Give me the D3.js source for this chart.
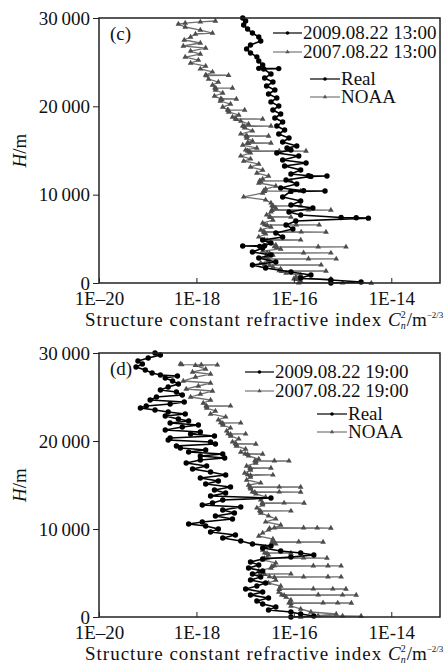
<!DOCTYPE html>
<html>
<head>
<meta charset="utf-8">
<script src="https://cdn.jsdelivr.net/npm/d3@7/dist/d3.min.js"></script>
<style>
  body { margin: 0; background: #fff; }
  svg text { font-family: "Liberation Serif", "Times New Roman", serif; fill: #111; }
</style>
</head>
<body>
<div id="chart-area"></div>
<script>
// x ticks (Cn2, m^-2/3) and y ticks (H, m)
const xTicks = [1e-20, 1e-18, 1e-16, 1e-14];
const xTickLabels = ["1E\u201320", "1E-18", "1E-16", "1E-14"];
const yTicks = [0, 10000, 20000, 30000];
const yTickLabels = ["0", "10\u2009000", "20\u2009000", "30\u2009000"];

// each point: [H in m, log10 of Cn2]
const realC = [[30000,-17.05],[29660,-16.99],[29200,-17.03],[28750,-16.95],[28300,-16.85],[27850,-16.72],[27400,-16.68],[26950,-16.89],[26500,-16.97],[26040,-16.89],[25600,-16.76],[25130,-16.72],[24680,-16.64],[24300,-16.72],[24270,-16.31],[24230,-16.62],[23660,-16.47],[23200,-16.60],[22750,-16.43],[22300,-16.56],[21850,-16.39],[21400,-16.52],[20940,-16.35],[20500,-16.47],[20040,-16.31],[19580,-16.43],[19130,-16.27],[18680,-16.39],[18230,-16.23],[17770,-16.35],[17320,-16.19],[16870,-16.31],[16410,-16.10],[15960,-16.23],[15510,-15.94],[15280,-16.14],[15060,-16.06],[14720,-16.35],[14380,-15.90],[13920,-16.23],[13580,-15.75],[13240,-16.19],[12790,-15.86],[12340,-16.06],[12140,-15.70],[12110,-15.32],[12070,-15.65],[11660,-16.16],[11210,-15.94],[10750,-16.27],[10440,-15.80],[10410,-15.36],[10370,-16.06],[9740,-16.23],[9280,-15.86],[8830,-16.06],[8490,-15.61],[8040,-16.10],[7700,-15.86],[7420,-15.03],[7380,-14.72],[7340,-14.47],[7020,-15.96],[6570,-16.16],[6110,-16.02],[5660,-16.37],[5210,-16.23],[4870,-16.64],[4530,-16.47],[4220,-16.60],[4190,-17.05],[4150,-16.70],[3960,-16.64],[3510,-16.85],[3170,-16.47],[2830,-16.72],[2380,-16.37],[2040,-16.85],[1700,-16.58],[1250,-16.06],[900,-15.65],[570,-15.86],[340,-15.24],[110,-14.62],[0,-15.24]];

const noaaC = [[29660,-17.61],[29550,-17.92],[29430,-18.23],[29320,-18.37],[28980,-18.23],[28640,-17.92],[28300,-17.67],[28190,-18.02],[27850,-18.12],[27510,-18.25],[27170,-17.92],[26830,-18.27],[26600,-17.81],[26260,-18.12],[25920,-17.92],[25580,-18.23],[25240,-17.96],[24900,-18.12],[24560,-17.81],[24230,-17.92],[23890,-17.67],[23550,-17.81],[23520,-17.34],[23480,-17.80],[23090,-17.75],[22750,-17.55],[22410,-17.67],[22100,-17.62],[22070,-17.26],[22030,-17.60],[21850,-17.61],[21510,-17.46],[21170,-17.63],[20860,-17.50],[20830,-17.18],[20790,-17.48],[20600,-17.51],[20260,-17.30],[19920,-17.46],[19610,-17.36],[19580,-17.01],[19540,-17.34],[19360,-17.34],[19020,-17.13],[18790,-17.26],[18590,-17.20],[18560,-16.64],[18520,-17.18],[18340,-17.09],[18000,-16.93],[17800,-17.05],[17770,-16.47],[17730,-17.02],[17550,-17.01],[17210,-16.85],[16870,-17.09],[16670,-16.98],[16640,-16.52],[16600,-16.96],[16410,-16.97],[16070,-16.85],[15880,-16.95],[15850,-16.47],[15810,-16.93],[15620,-17.05],[15280,-16.76],[15060,-16.99],[14970,-16.95],[14950,-16.30],[14940,-15.75],[14900,-16.92],[14720,-16.89],[14380,-17.09],[14040,-16.89],[13810,-17.03],[13470,-16.72],[13130,-16.89],[12790,-16.64],[12450,-16.76],[12110,-16.52],[11770,-16.64],[11580,-16.70],[11550,-16.06],[11510,-16.68],[11320,-16.72],[10980,-16.37],[10640,-16.58],[10440,-16.62],[10410,-15.86],[10370,-16.60],[10190,-16.64],[9740,-17.03],[9400,-16.58],[9060,-16.47],[8750,-16.45],[8720,-15.86],[8680,-16.42],[8490,-16.37],[8290,-16.45],[8270,-15.70],[8260,-15.24],[8220,-16.45],[8040,-16.47],[7700,-16.56],[7500,-16.50],[7470,-16.06],[7430,-16.48],[7130,-16.43],[6790,-16.64],[6600,-16.60],[6580,-15.95],[6570,-15.48],[6530,-16.55],[6340,-16.47],[6000,-16.68],[5800,-16.62],[5780,-15.85],[5770,-15.34],[5730,-16.60],[5550,-16.58],[5210,-16.72],[4900,-16.60],[4870,-15.86],[4830,-16.55],[4640,-16.52],[4300,-16.37],[4110,-16.40],[4090,-15.50],[4080,-14.93],[4040,-16.35],[3850,-16.27],[3620,-16.64],[3430,-16.55],[3410,-15.80],[3400,-15.24],[3360,-16.50],[3170,-16.43],[2940,-16.58],[2750,-16.55],[2730,-15.70],[2720,-15.13],[2680,-16.52],[2490,-16.52],[2260,-16.68],[2070,-16.60],[2040,-15.44],[2000,-16.50],[1810,-16.43],[1590,-16.27],[1390,-16.30],[1360,-15.34],[1320,-16.25],[1130,-16.16],[900,-15.86],[680,-15.96],[480,-16.00],[450,-15.24],[410,-15.95],[230,-15.86],[30,-15.90],[10,-15.00],[0,-14.41]];

const realD = [[30000,-18.85],[29770,-18.74],[29430,-18.99],[29090,-19.20],[28750,-19.11],[28410,-19.24],[28070,-19.05],[27730,-18.91],[27500,-18.74],[27390,-18.39],[27160,-18.64],[26820,-18.49],[26480,-18.37],[26140,-18.58],[25800,-18.74],[25570,-18.41],[25230,-18.29],[25000,-18.82],[24660,-18.95],[24430,-18.25],[24200,-18.54],[23980,-19.03],[23750,-19.15],[23520,-18.85],[23300,-18.58],[23070,-18.23],[22840,-18.64],[22500,-18.37],[22270,-18.16],[22050,-18.54],[21820,-17.96],[21590,-18.29],[21250,-18.64],[21020,-17.92],[20800,-18.12],[20570,-17.63],[20340,-18.54],[20110,-18.58],[19890,-17.71],[19660,-17.61],[19430,-18.41],[19200,-18.33],[18980,-17.81],[18750,-18.16],[18520,-17.46],[18300,-17.92],[18070,-17.42],[17840,-17.92],[17500,-18.21],[17160,-17.79],[16820,-18.08],[16480,-17.71],[16140,-17.40],[15800,-17.92],[15450,-17.55],[15110,-17.81],[14770,-17.30],[14430,-17.63],[14090,-17.40],[13750,-17.71],[13520,-16.47],[13300,-17.46],[12950,-17.67],[12730,-17.88],[12500,-17.09],[12160,-17.46],[11820,-17.22],[11480,-17.61],[11140,-17.26],[10800,-17.88],[10570,-18.16],[10340,-17.81],[10000,-17.55],[9660,-17.71],[9320,-17.20],[8980,-17.46],[8640,-17.09],[8300,-16.85],[8070,-16.47],[7840,-16.64],[7500,-16.27],[7270,-15.86],[7050,-15.59],[6820,-16.06],[6590,-16.64],[6250,-16.89],[5910,-16.72],[5570,-16.93],[5230,-16.64],[4890,-16.85],[4550,-16.68],[4200,-16.89],[3860,-16.58],[3520,-16.76],[3180,-16.99],[2840,-16.64],[2500,-16.89],[2160,-16.52],[1820,-16.76],[1480,-16.64],[1140,-16.37],[800,-16.52],[570,-16.06],[340,-15.86],[110,-15.59],[0,-16.06]];

const noaaD = [[28750,-18.33],[28680,-18.30],[28660,-17.90],[28640,-17.57],[28600,-18.02],[28180,-17.81],[27840,-18.08],[27610,-17.71],[27270,-18.02],[26820,-18.27],[26590,-17.71],[26250,-17.96],[25910,-18.21],[25680,-17.67],[25340,-17.92],[25000,-18.12],[24660,-17.71],[24320,-17.86],[24010,-17.80],[23980,-17.30],[23940,-17.79],[23750,-17.79],[23410,-17.61],[23070,-17.71],[22730,-17.40],[22390,-17.55],[22080,-17.50],[22050,-17.09],[22010,-17.46],[21820,-17.46],[21480,-17.30],[21140,-17.38],[20830,-17.35],[20800,-16.99],[20760,-17.30],[20570,-17.30],[20230,-17.13],[19890,-17.26],[19690,-17.20],[19660,-16.78],[19620,-17.18],[19430,-17.18],[19090,-16.99],[18750,-17.09],[18550,-17.00],[18520,-16.64],[18480,-16.95],[18300,-16.93],[17950,-16.72],[17760,-16.80],[17740,-16.40],[17730,-16.10],[17690,-16.78],[17500,-16.78],[17160,-16.97],[16960,-16.90],[16930,-16.47],[16890,-16.89],[16700,-16.89],[16360,-17.01],[16170,-16.95],[16140,-16.43],[16100,-16.89],[15910,-16.89],[15570,-16.97],[15230,-16.68],[15000,-16.93],[14800,-16.90],[14780,-16.30],[14770,-15.86],[14730,-16.89],[14550,-16.89],[14230,-16.85],[14210,-16.30],[14200,-15.86],[14160,-16.80],[13980,-16.78],[13640,-16.58],[13300,-16.68],[12980,-16.65],[12960,-16.20],[12950,-15.79],[12910,-16.64],[12730,-16.64],[12390,-16.76],[12080,-16.70],[12050,-16.06],[12010,-16.68],[11820,-16.68],[11480,-16.52],[11140,-16.37],[10800,-16.58],[10450,-16.27],[10140,-16.40],[10130,-15.80],[10120,-15.52],[10110,-15.24],[10070,-16.50],[9890,-16.52],[9550,-16.64],[9200,-16.72],[8860,-16.43],[8550,-16.45],[8540,-15.90],[8520,-15.40],[8480,-16.40],[8300,-16.37],[7950,-16.58],[7610,-16.64],[7300,-16.60],[7270,-16.06],[7230,-16.55],[7050,-16.52],[6730,-16.55],[6720,-15.80],[6700,-15.32],[6660,-16.60],[6480,-16.64],[6140,-16.37],[5830,-16.40],[5820,-15.60],[5810,-15.30],[5800,-15.03],[5760,-16.45],[5570,-16.47],[5230,-16.72],[4920,-16.70],[4890,-16.06],[4850,-16.60],[4580,-16.50],[4570,-15.80],[4560,-15.30],[4550,-15.03],[4510,-16.40],[4200,-16.37],[3860,-16.52],[3520,-16.27],[3210,-16.30],[3200,-15.60],[3190,-15.20],[3180,-14.93],[3140,-16.30],[2840,-16.31],[2530,-16.25],[2520,-15.50],[2510,-15.00],[2500,-14.72],[2460,-16.20],[2270,-16.16],[1930,-16.06],[1620,-16.10],[1610,-15.40],[1600,-15.10],[1590,-14.82],[1550,-16.06],[1250,-16.06],[910,-15.86],[570,-15.65],[340,-15.13],[150,-15.50],[120,-15.00],[110,-14.62],[70,-15.60],[0,-15.86]];

const panels = [
  {tag: "(c)", top: 18, bottom: 283, real: realC, noaa: noaaC,
   dates: ["2009.08.22 13:00", "2007.08.22 13:00"],
   leg1: {x: 273, y: 33}, leg2: {x: 310, y: 79}},
  {tag: "(d)", top: 353, bottom: 617, real: realD, noaa: noaaD,
   dates: ["2009.08.22 19:00", "2007.08.22 19:00"],
   leg1: {x: 245, y: 372}, leg2: {x: 317, y: 414}}
];

const left = 99, right = 440;
const svg = d3.select("#chart-area").append("svg")
    .attr("width", 448)
    .attr("height", 663);

const x = d3.scaleLog().domain([1e-20, 1e-13]).range([left, right]);
const tri = d3.symbol().type(d3.symbolTriangle).size(14);

panels.forEach((p) => {
  const y = d3.scaleLinear().domain([0, 30000]).range([p.bottom, p.top]);
  const g = svg.append("g");

  const line = d3.line()
      .x((d) => x(Math.pow(10, d[1])))
      .y((d) => y(d[0]));

  // NOAA (grey, triangles)
  g.append("path").datum(p.noaa)
      .attr("d", line)
      .attr("fill", "none")
      .attr("stroke", "#707070")
      .attr("stroke-width", 1.3);
  g.selectAll(".tri").data(p.noaa).enter().append("path")
      .attr("transform", (d) => "translate(" + x(Math.pow(10, d[1])) + "," + y(d[0]) + ")")
      .attr("d", tri)
      .attr("fill", "#4d4d4d");

  // Real (black, dots)
  g.append("path").datum(p.real)
      .attr("d", line)
      .attr("fill", "none")
      .attr("stroke", "#000")
      .attr("stroke-width", 1.6);
  g.selectAll(".dot").data(p.real).enter().append("circle")
      .attr("cx", (d) => x(Math.pow(10, d[1])))
      .attr("cy", (d) => y(d[0]))
      .attr("r", 2.7)
      .attr("fill", "#000");

  // frame
  g.append("rect")
      .attr("x", left).attr("y", p.top)
      .attr("width", right - left).attr("height", p.bottom - p.top)
      .attr("fill", "none").attr("stroke", "#222").attr("stroke-width", 1.5);

  // x axis
  const xAxis = d3.axisBottom(x).tickValues(xTicks)
      .tickFormat((d, i) => xTickLabels[i]).tickSize(-5).tickPadding(9);
  const xg = g.append("g").attr("transform", "translate(0," + p.bottom + ")").call(xAxis);
  xg.select(".domain").remove();
  xg.selectAll("line").attr("stroke", "#222");
  xg.selectAll("text").attr("font-size", 19).attr("font-family", "Liberation Serif").attr("fill", "#111");

  // y axis
  const yAxis = d3.axisLeft(y).tickValues(yTicks)
      .tickFormat((d, i) => yTickLabels[i]).tickSize(6).tickPadding(3);
  const yg = g.append("g").attr("transform", "translate(" + left + ",0)").call(yAxis);
  yg.select(".domain").remove();
  yg.selectAll("line").attr("stroke", "#222");
  yg.selectAll("text").attr("font-size", 19).attr("font-family", "Liberation Serif").attr("fill", "#111");

  // y label
  const yl = g.append("text")
      .attr("transform", "translate(26," + (p.top + p.bottom) / 2 + ") rotate(-90)")
      .attr("text-anchor", "middle")
      .attr("font-size", 19);
  yl.append("tspan").attr("font-style", "italic").text("H");
  yl.append("tspan").text("/m");

  // x label
  const xl = g.append("text")
      .attr("x", 85).attr("y", p.bottom + 43)
      .attr("font-size", 19);
  xl.append("tspan").attr("letter-spacing", 1.0).text("Structure constant refractive index ");
  xl.append("tspan").attr("font-style", "italic").text("C");
  xl.append("tspan").attr("font-style", "italic").attr("font-size", 10).attr("dy", 3).text("n");
  xl.append("tspan").attr("font-size", 10).attr("dx", -5).attr("dy", -11).text("2");
  xl.append("tspan").attr("dy", 8).attr("dx", 1).text("/m");
  xl.append("tspan").attr("font-size", 9).attr("dy", -8).text("\u22122/3");

  // panel tag
  g.append("text").attr("x", 110).attr("y", p.top + 22)
      .attr("font-size", 19).text(p.tag);

  // legend
  const legendRows = [
    {x0: p.leg1.x, y0: p.leg1.y, w: 29, text: p.dates[0], real: true},
    {x0: p.leg1.x, y0: p.leg1.y + 19, w: 29, text: p.dates[1], real: false},
    {x0: p.leg2.x, y0: p.leg2.y, w: 30, text: "Real", real: true},
    {x0: p.leg2.x, y0: p.leg2.y + 18, w: 30, text: "NOAA", real: false}
  ];
  legendRows.forEach((r) => {
    g.append("line")
        .attr("x1", r.x0).attr("x2", r.x0 + r.w)
        .attr("y1", r.y0).attr("y2", r.y0)
        .attr("stroke", r.real ? "#000" : "#777").attr("stroke-width", 1.2);
    if (r.real) {
      g.append("circle").attr("cx", r.x0 + r.w / 2).attr("cy", r.y0).attr("r", 1.8).attr("fill", "#000");
    } else {
      g.append("path").attr("transform", "translate(" + (r.x0 + r.w / 2) + "," + r.y0 + ")")
          .attr("d", d3.symbol().type(d3.symbolTriangle).size(8)).attr("fill", "#555");
    }
    g.append("text").attr("x", r.x0 + r.w + 1).attr("y", r.y0 + 6)
        .attr("font-size", 19).text(r.text);
  });
});
</script>
</body>
</html>
